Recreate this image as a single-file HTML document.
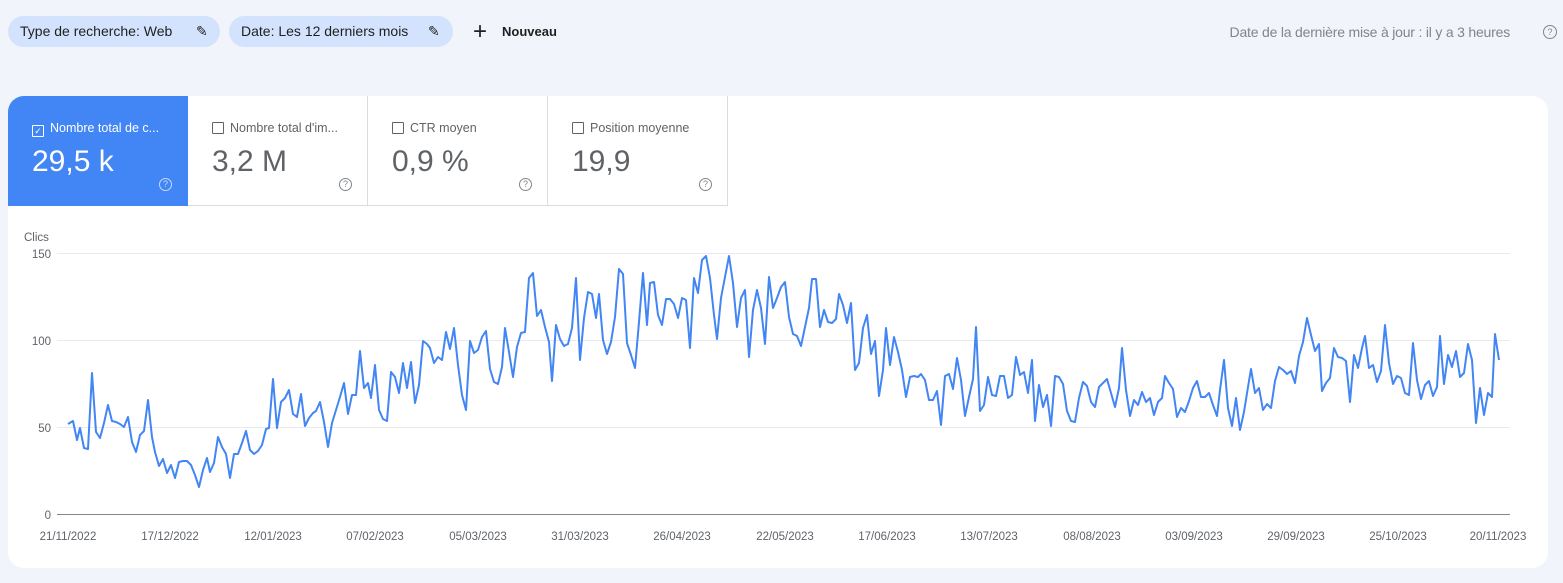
<!DOCTYPE html>
<html><head><meta charset="utf-8"><style>
body{margin:0;width:1563px;height:583px;background:#f1f4fa;font-family:"Liberation Sans",sans-serif;position:relative;overflow:hidden}
.chip{position:absolute;top:16px;height:31px;background:#d3e3fd;border-radius:16px;font-size:14px;color:#1f1f1f;line-height:31px;padding-left:12px;box-sizing:border-box}
.card{position:absolute;left:8px;top:96px;width:1540px;height:472px;background:#fff;border-radius:16px;overflow:hidden}
.tile{position:absolute;top:0;width:180px;height:110px;box-sizing:border-box;border-right:1px solid #dadce0;border-bottom:1px solid #dadce0}
.tl{position:absolute;left:24px;top:25px;font-size:12.5px;color:#5f6368}
.tv{position:absolute;left:24px;top:49px;font-size:30px;color:#5f6368}
.cb{display:inline-block;width:10px;height:10px;border:1px solid #5f6368;border-radius:1px;vertical-align:-2px;margin-right:6px}
.q{position:absolute;left:151px;top:82px;width:11px;height:11px;border:1px solid #80868b;border-radius:50%;font-size:9px;line-height:11px;text-align:center;color:#80868b}
</style></head><body>
<div class="chip" style="left:8px;width:212px">Type de recherche: Web <span style="position:absolute;left:188px">✎</span></div>
<div class="chip" style="left:229px;width:224px">Date: Les 12 derniers mois <span style="position:absolute;left:199px">✎</span></div>
<div style="position:absolute;left:473px;top:18px;font-size:24px;color:#1f1f1f">+</div>
<div style="position:absolute;left:502px;top:24px;font-size:13px;color:#1f1f1f;font-weight:bold">Nouveau</div>
<div style="position:absolute;right:53px;top:24px;font-size:14px;color:#80868b;letter-spacing:-0.2px">Date de la dernière mise à jour : il y a 3 heures</div>
<div style="position:absolute;left:1543px;top:25px;width:12px;height:12px;border:1px solid #80868b;border-radius:50%;font-size:9px;line-height:12px;text-align:center;color:#80868b">?</div>
<div class="card">
<div class="tile" style="left:0;background:#4285f4;border:none"><div class="tl" style="color:#fff"><span class="cb" style="border-color:#fff;font-size:9px;line-height:10px;text-align:center">✓</span>Nombre total de c...</div><div class="tv" style="color:#fff">29,5 k</div><div class="q" style="border-color:#c6dafc;color:#c6dafc">?</div></div>
<div class="tile" style="left:180px"><div class="tl"><span class="cb"></span>Nombre total d'im...</div><div class="tv">3,2 M</div><div class="q">?</div></div>
<div class="tile" style="left:360px"><div class="tl"><span class="cb"></span>CTR moyen</div><div class="tv">0,9 %</div><div class="q">?</div></div>
<div class="tile" style="left:540px"><div class="tl"><span class="cb"></span>Position moyenne</div><div class="tv">19,9</div><div class="q">?</div></div>
</div>
<svg style="position:absolute;left:0;top:0" width="1563" height="583" font-family="Liberation Sans" font-size="11.5" fill="#5f6368">
<text x="24" y="241">Clics</text>
<g text-anchor="end"><text x="51" y="258">150</text><text x="51" y="345">100</text><text x="51" y="432">50</text><text x="51" y="519">0</text></g>
<g stroke="#e8eaed" stroke-width="1"><line x1="57" x2="1510" y1="253.5" y2="253.5"/><line x1="57" x2="1510" y1="340.5" y2="340.5"/><line x1="57" x2="1510" y1="427.5" y2="427.5"/></g>
<line x1="57" x2="1510" y1="514.5" y2="514.5" stroke="#80868b"/>
<g text-anchor="middle"><text x="68" y="540">21/11/2022</text><text x="170" y="540">17/12/2022</text><text x="273" y="540">12/01/2023</text><text x="375" y="540">07/02/2023</text><text x="478" y="540">05/03/2023</text><text x="580" y="540">31/03/2023</text><text x="682" y="540">26/04/2023</text><text x="785" y="540">22/05/2023</text><text x="887" y="540">17/06/2023</text><text x="989" y="540">13/07/2023</text><text x="1092" y="540">08/08/2023</text><text x="1194" y="540">03/09/2023</text><text x="1296" y="540">29/09/2023</text><text x="1398" y="540">25/10/2023</text><text x="1498" y="540">20/11/2023</text></g>
<polyline fill="none" stroke="#4285f4" stroke-width="2" stroke-linejoin="round" points="68,424 73,421 77,440 80,428 84,448 88,449 92,373 96,432 100,438 104,423 108,405 112,421 116,422 120,424 124,427 128,417 132,442 136,452 140,435 144,431 148,400 152,437 155,452 159,466 163,459 167,473 171,465 175,478 179,462 183,461 187,461 191,465 195,475 199,487 203,470 207,458 210,472 214,463 218,437 222,447 226,454 230,478 234,454 238,454 242,443 246,431 250,450 254,454 258,451 262,445 266,429 269,428 273,379 277,428 281,402 285,398 289,390 293,414 297,417 301,394 305,426 309,418 313,413 316,411 320,402 324,422 328,447 332,423 336,410 340,397 344,383 348,414 352,395 356,395 360,351 364,388 368,383 371,398 375,365 379,410 383,419 387,421 391,372 395,377 399,393 403,363 407,388 411,362 415,403 419,385 423,341 427,344 430,348 434,363 438,357 442,360 446,332 450,349 454,328 458,365 462,395 466,410 470,341 474,353 478,350 482,337 486,331 490,369 494,382 498,384 502,367 505,328 509,352 513,377 517,347 521,333 525,332 529,278 533,273 537,316 541,310 545,327 549,342 552,381 556,325 560,339 564,346 568,344 572,328 576,278 580,360 584,318 588,292 592,294 596,318 599,294 603,340 607,354 611,342 615,317 619,269 623,274 627,343 631,355 635,368 639,322 643,273 647,325 650,283 654,282 658,315 662,325 666,299 670,299 674,304 678,318 682,298 686,300 690,348 694,278 698,293 702,260 706,256 710,278 714,315 717,339 721,298 725,277 729,256 733,283 737,327 741,298 745,290 749,357 753,310 757,290 761,308 765,344 769,277 773,308 777,298 781,287 785,282 789,317 793,334 797,336 801,346 805,327 809,308 812,279 816,279 820,327 824,310 828,322 832,323 836,319 839,294 843,305 847,323 851,303 855,370 859,363 863,328 867,315 871,354 875,341 879,396 883,370 886,328 890,365 894,337 898,352 902,370 906,397 910,377 914,376 918,377 921,374 925,380 929,400 933,400 937,391 941,425 945,376 949,374 953,389 957,358 961,380 965,416 969,397 973,379 976,327 980,411 984,405 988,377 992,395 996,396 1000,376 1004,376 1008,398 1012,395 1016,357 1020,375 1024,372 1028,393 1032,360 1035,421 1039,385 1043,407 1047,395 1051,426 1055,376 1059,377 1063,384 1067,411 1071,421 1075,422 1079,398 1083,382 1087,386 1091,402 1095,407 1099,387 1103,383 1107,379 1111,393 1115,407 1119,388 1122,348 1126,390 1130,416 1134,400 1138,405 1142,392 1146,402 1150,398 1154,415 1158,402 1162,398 1165,376 1169,383 1173,389 1177,417 1181,408 1185,412 1189,401 1193,388 1197,381 1201,397 1205,397 1209,393 1213,405 1217,416 1220,390 1224,360 1228,408 1232,426 1236,398 1240,430 1244,412 1248,387 1251,369 1255,393 1259,388 1263,410 1267,404 1271,408 1275,381 1279,367 1283,370 1287,374 1291,371 1295,383 1299,356 1303,342 1307,318 1311,335 1315,351 1319,344 1322,391 1326,383 1330,378 1334,348 1338,357 1342,358 1346,361 1350,402 1354,355 1358,368 1362,348 1365,336 1369,368 1373,365 1377,382 1381,371 1385,325 1389,363 1393,384 1397,376 1401,378 1405,393 1409,395 1413,343 1417,380 1421,399 1425,385 1429,381 1433,396 1437,387 1440,336 1444,384 1448,355 1452,367 1456,351 1460,377 1464,373 1468,344 1472,360 1476,423 1480,388 1484,415 1488,393 1492,397 1495,334 1499,360"/>
</svg>
</body></html>
